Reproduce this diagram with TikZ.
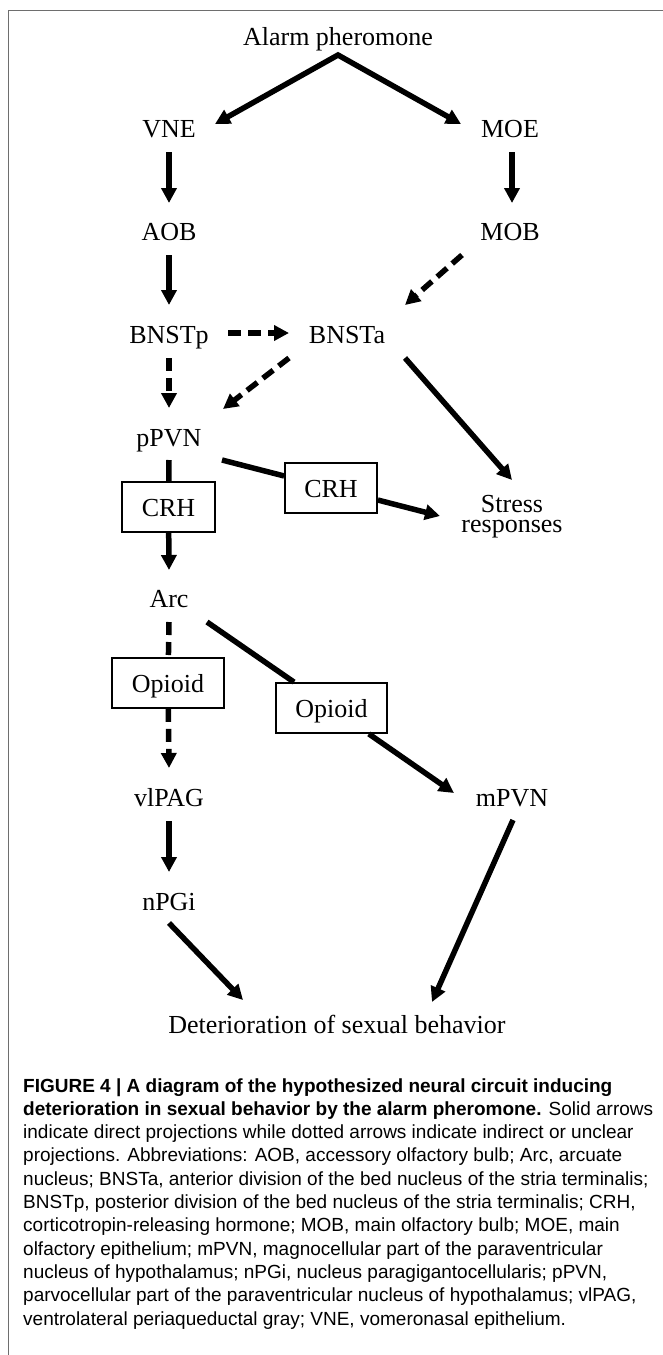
\documentclass[tikz,border=0pt]{standalone}
\usepackage{fontspec}
\setmainfont{Liberation Serif}
\newfontfamily\capfont{Liberation Sans}
\usetikzlibrary{arrows.meta}
\begin{document}
\begin{tikzpicture}[x=1pt,y=-1pt,
  >={Triangle[length=15pt,width=15pt]},
  lbl/.style={inner sep=0pt, font=\fontsize{26}{26}\selectfont, text height=18pt, text depth=0pt},
  boxnode/.style={draw, line width=1.8pt, fill=white, inner sep=0pt, minimum height=50pt,
    font=\fontsize{26}{26}\selectfont, text height=18pt, text depth=0pt},
  conn/.style={line width=5.5pt, ->},
  plainline/.style={line width=5.5pt},
  dashconn/.style={conn, dash pattern=on 13pt off 7pt},
  dashplain/.style={plainline, dash pattern=on 13pt off 7pt},
  capline/.style={anchor=base west, inner sep=0pt, font=\capfont\fontsize{19}{23}\selectfont},
  borderline/.style={draw=black!57, line width=1.5pt}
]
\useasboundingbox (0,0) rectangle (662,1355);
\fill[white] (0,0) rectangle (662,1355);
\draw[borderline] (8.5,1356) -- (8.5,10.5) -- (663,10.5);

% labels
\node[lbl] (alarm) at (338,36) {Alarm pheromone};
\node[lbl] (vne) at (169,128) {VNE};
\node[lbl] (moe) at (510,128) {MOE};
\node[lbl] (aob) at (169,231) {AOB};
\node[lbl] (mob) at (510,231) {MOB};
\node[lbl] (bnstp) at (169,334) {BNSTp};
\node[lbl] (bnsta) at (347,334) {BNSTa};
\node[lbl] (ppvn) at (169,437) {pPVN};
\node[inner sep=0pt, anchor=north, align=center, font=\fontsize{26}{20.5}\selectfont] (stress) at (512,495) {Stress\\responses};
\node[lbl] (arc) at (169,598) {Arc};
\node[lbl] (vlpag) at (169,797) {vlPAG};
\node[lbl] (mpvn) at (512,797) {mPVN};
\node[lbl] (npgi) at (169,901) {nPGi};
\node[lbl] (det) at (337,1024) {Deterioration of sexual behavior};

% boxes
\node[boxnode, minimum width=93pt] (crhA) at (168.5,507) {CRH};
\node[boxnode, minimum width=92pt] (crhB) at (331,488) {CRH};
\node[boxnode, minimum width=112pt] (opA) at (168,683) {Opioid};
\node[boxnode, minimum width=111pt] (opB) at (331.5,708) {Opioid};

% connectors
\draw[conn, <->] ([shift={(46,-4)}]vne.center) -- ([shift={(0,19)}]alarm.center) -- ([shift={(-49,-4)}]moe.center);
\draw[conn] ([shift={(0,24)}]vne.center) -- ([shift={(0,-28)}]aob.center);
\draw[conn] ([shift={(2,24)}]moe.center) -- ([shift={(2,-28)}]mob.center);
\draw[conn] ([shift={(0,24)}]aob.center) -- ([shift={(0,-29)}]bnstp.center);
\draw[dashconn] ([shift={(-48,24)}]mob.center) -- ([shift={(58,-29)}]bnsta.center);
\draw[dashconn] ([shift={(59,-1)}]bnstp.center) -- ([shift={(-58,-1)}]bnsta.center);
\draw[dashconn] ([shift={(0,24)}]bnstp.center) -- ([shift={(0,-29)}]ppvn.center);
\draw[dashconn] ([shift={(-58,24)}]bnsta.center) -- ([shift={(54,-28)}]ppvn.center);
\draw[conn] ([shift={(58,24)}]bnsta.center) -- ([shift={(0,-15)}]stress.north);
\draw[plainline] ([shift={(53,23)}]ppvn.center) -- (crhB);
\draw[conn] (crhB) -- ([shift={(-72,21)}]stress.north);
\draw[plainline] ([shift={(0,23)}]ppvn.center) -- (crhA);
\draw[conn] (crhA) -- ([shift={(0,-28)}]arc.center);
\draw[dashplain] ([shift={(0,24)}]arc.center) -- (opA);
\draw[dashconn] (opA) -- ([shift={(0,-29)}]vlpag.center);
\draw[plainline] ([shift={(38,24)}]arc.center) -- (opB);
\draw[conn] (opB) -- ([shift={(-58,-4)}]mpvn.center);
\draw[conn] ([shift={(0,24)}]vlpag.center) -- ([shift={(0,-29)}]npgi.center);
\draw[conn] ([shift={(1,23)}]mpvn.center) -- ([shift={(95,-22)}]det.center);
\draw[conn] ([shift={(0,22)}]npgi.center) -- ([shift={(-94,-24)}]det.center);

% caption
\node[capline] (c1) at (23,1092) {\bfseries FIGURE 4 | A diagram of the hypothesized neural circuit inducing};
\node[capline] (c2) at (23,1115.3) {\bfseries deterioration in sexual behavior by the alarm pheromone.\mdseries{} Solid arrows};
\node[capline] (c3) at (23,1138.6) {indicate direct projections while dotted arrows indicate indirect or unclear};
\node[capline] (c4) at (23,1161.9) {projections. Abbreviations: AOB, accessory olfactory bulb; Arc, arcuate};
\node[capline] (c5) at (23,1185.2) {nucleus; BNSTa, anterior division of the bed nucleus of the stria terminalis;};
\node[capline] (c6) at (23,1208.5) {BNSTp, posterior division of the bed nucleus of the stria terminalis; CRH,};
\node[capline] (c7) at (23,1231.8) {corticotropin-releasing hormone; MOB, main olfactory bulb; MOE, main};
\node[capline] (c8) at (23,1255.1) {olfactory epithelium; mPVN, magnocellular part of the paraventricular};
\node[capline] (c9) at (23,1278.4) {nucleus of hypothalamus; nPGi, nucleus paragigantocellularis; pPVN,};
\node[capline] (c10) at (23,1301.7) {parvocellular part of the paraventricular nucleus of hypothalamus; vlPAG,};
\node[capline] (c11) at (23,1325) {ventrolateral periaqueductal gray; VNE, vomeronasal epithelium.};
\end{tikzpicture}
\end{document}
